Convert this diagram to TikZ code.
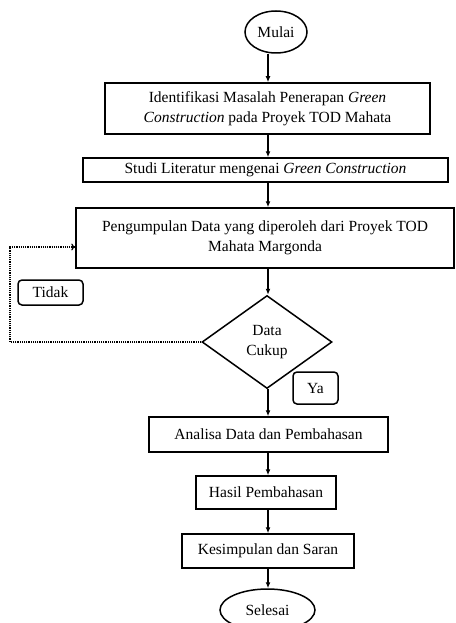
\documentclass[tikz,border=0pt]{standalone}
\usepackage{fontspec}
\setmainfont{Liberation Serif}
\usetikzlibrary{shapes.geometric,arrows.meta}
\begin{document}
\begin{tikzpicture}[x=1pt,y=-1pt,
  every node/.style={font=\fontsize{15.5}{20.5}\selectfont, align=center, inner sep=0pt, line width=1.5pt},
  procbox/.style={draw, rectangle},
  termnode/.style={draw, ellipse},
  labelbox/.style={draw, rectangle, rounded corners=4pt},
  decision/.style={draw, diamond},
  arr/.style={line width=1.4pt, -{Latex[length=6pt,width=5pt]}},
  backarr/.style={line width=1.2pt, densely dotted, -{To[length=4pt,width=7pt]}}]
\useasboundingbox (0,0) rectangle (455,623);
\coordinate (ax) at (268,0);
\node[termnode, minimum width=62pt, minimum height=42pt] (mulai) at (276,32) {Mulai};
\node[procbox, minimum width=325pt, minimum height=51pt] (b1) at (267.5,108.5) {Identifikasi Masalah Penerapan \textit{Green}\\\textit{Construction} pada Proyek TOD Mahata};
\node[procbox, minimum width=365pt, minimum height=24pt] (b2) at (265.5,170) {Studi Literatur mengenai \textit{Green Construction}};
\node[procbox, minimum width=378pt, minimum height=60pt] (b3) at (265,238) {Pengumpulan Data yang diperoleh dari Proyek TOD\\Mahata Margonda};
\node[decision, minimum width=130pt, minimum height=93pt] (dia) at (267,342) {Data\\Cukup};
\node[labelbox, minimum width=65pt, minimum height=25pt] (tidak) at (50.5,292.5) {Tidak};
\node[labelbox, minimum width=45pt, minimum height=32pt] (ya) at (315.5,388) {Ya};
\node[procbox, minimum width=239pt, minimum height=35pt] (b4) at (268.5,434.5) {Analisa Data dan Pembahasan};
\node[procbox, minimum width=140pt, minimum height=33pt] (b5) at (266,492.5) {Hasil Pembahasan};
\node[procbox, minimum width=172pt, minimum height=34pt] (b6) at (268,551) {Kesimpulan dan Saran};
\node[termnode, minimum width=95pt, minimum height=42pt] (selesai) at (267.5,610) {Selesai};
\coordinate (lb) at (10,247);
\draw[arr] (mulai.south -| ax) -- (b1.north -| ax);
\draw[arr] (b1.south -| ax) -- (b2.north -| ax);
\draw[arr] (b2.south -| ax) -- (b3.north -| ax);
\draw[arr] (b3.south -| ax) -- (dia.north -| ax);
\draw[arr] (dia.south -| ax) -- (b4.north -| ax);
\draw[arr] (b4.south -| ax) -- (b5.north -| ax);
\draw[arr] (b5.south -| ax) -- (b6.north -| ax);
\draw[arr] (b6.south -| ax) -- (selesai.north -| ax);
\draw[backarr] (dia.west) -| (lb) -- (lb -| b3.west);
\end{tikzpicture}
\end{document}
